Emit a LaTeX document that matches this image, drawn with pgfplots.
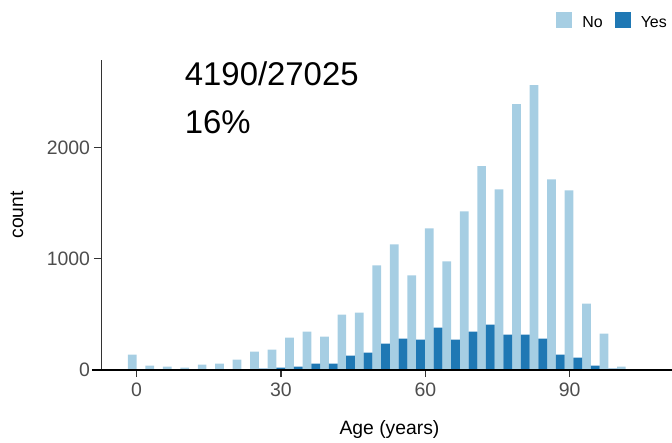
\documentclass[border=0pt]{standalone}
\usepackage{pgfplots}
\pgfplotsset{compat=1.18}
\usepackage{pgfplotstable}
\usepackage{fontspec}
\setmainfont{Liberation Sans}
\definecolor{nocol}{HTML}{A6CEE3}
\definecolor{yescol}{HTML}{1F78B4}
\definecolor{tickgray}{HTML}{4D4D4D}
\definecolor{linegray}{HTML}{333333}

\pgfplotstableread{
x      No    Yes
0      138   0
3.63   39    0
7.26   30    0
10.89  21    0
14.52  48    0
18.15  57    0
21.78  93    0
25.41  165   12
29.04  183   21
32.67  291   30
36.30  345   57
39.93  300   57
43.56  498   129
47.19  516   156
50.82  940   237
54.45  1129  282
58.08  850   273
61.71  1273  381
65.34  976   273
68.97  1426  345
72.60  1832  408
76.23  1624  318
79.86  2390  318
83.49  2561  282
87.12  1714  138
90.75  1615  111
94.38  597   39
98.01  327   12
101.64 30    0
}\agedata

\begin{document}
\begin{tikzpicture}
\path[use as bounding box] (-101bp,-73bp) rectangle (571bp,370bp);
\begin{axis}[
  at={(0,0)}, anchor=south west,
  scale only axis, width=577bp, height=310bp,
  xmin=-7.4, xmax=112.5, ymin=0, ymax=2786,
  ybar, bar width=1.815,
  axis x line*=bottom, axis y line*=left, axis line style={-},
  x axis line style={draw=none},
  y axis line style={draw=linegray, line width=0.9bp},
  xtick={0,30,60,90}, ytick={0,1000,2000},
  tick align=outside, major tick length=7bp,
  tick style={linegray, line width=1.1bp},
  ticklabel style={font=\fontsize{19.5}{19.5}\selectfont, text=tickgray},
  yticklabel style={xshift=-0.5bp},
  xticklabel style={yshift=-2bp},
  /pgf/number format/assume math mode=true,
  /pgf/number format/1000 sep={},
  xlabel={Age (years)}, ylabel={count},
  label style={font=\fontsize{19.4}{19.4}\selectfont},
  xlabel style={at={(axis description cs:0.5,-0.1935)}, anchor=center},
  ylabel style={at={(axis description cs:-0.1455,0.5)}, anchor=center},
  clip=false,
  legend columns=2,
  legend style={at={(axis description cs:1,1)}, anchor=south east,
    xshift=-11bp, yshift=31bp, draw=none, fill=none, inner sep=0pt,
    font=\fontsize{16}{16}\selectfont, nodes={inner sep=0pt},
    /tikz/every even column/.append style={column sep=12bp},
    /tikz/every odd column/.append style={column sep=10bp}},
  legend image code/.code={\fill[#1] (0bp,-5bp) rectangle (16bp,11bp);},
]
\addplot[fill=nocol, draw=none, bar shift=-0.9075] table[x=x, y=No] {\agedata};
\addlegendentry{No}
\addplot[fill=yescol, draw=none, bar shift=0.9075] table[x=x, y=Yes] {\agedata};
\addlegendentry{Yes}
\draw[black, line width=2.2bp] ([xshift=-9bp]rel axis cs:0,0) -- (rel axis cs:1,0);
\node[anchor=base west, inner sep=0pt, font=\fontsize{33}{33}\selectfont] at (axis cs:10,2560) {4190/27025};
\node[anchor=base west, inner sep=0pt, font=\fontsize{33}{33}\selectfont] at (axis cs:10,2125) {16\%};
\end{axis}
\end{tikzpicture}
\end{document}
